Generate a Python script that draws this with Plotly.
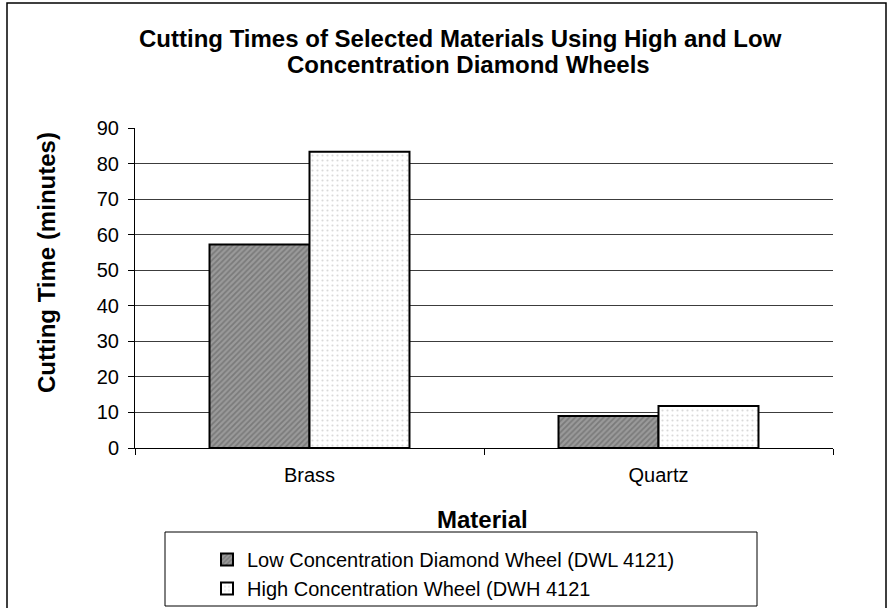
import plotly.graph_objects as go

materials = ["Brass", "Quartz"]
low_conc = [57.2, 9.0]
high_conc = [83.3, 11.8]
series_names = ["Low Concentration Diamond Wheel (DWL 4121)",
                "High Concentration Wheel (DWH 4121"]
y_ticks = [0, 10, 20, 30, 40, 50, 60, 70, 80, 90]

W, H = 889, 608
L, R, T, B = 135, 56, 128, 160
PW, PH = W - L - R, H - T - B

def px(x):
    return (x - L) / PW

def py(y):
    return (H - B - y) / PH

FONT = "Liberation Sans, Arial, sans-serif"

fig = go.Figure()
fig.add_trace(go.Bar(
    x=materials, y=low_conc, name=series_names[0],
    marker=dict(color="#8c8c8c", line=dict(color="black", width=2),
                pattern=dict(shape="/", fgcolor="#5a5a5a", bgcolor="#9a9a9a",
                             size=4, solidity=0.45)),
))
fig.add_trace(go.Bar(
    x=materials, y=high_conc, name=series_names[1],
    marker=dict(color="white", line=dict(color="black", width=2),
                pattern=dict(shape=".", fgcolor="#b4b4b4", bgcolor="white",
                             size=5, solidity=0.15)),
))

fig.update_layout(
    width=W, height=H,
    margin=dict(l=L, r=R, t=T, b=B, autoexpand=False),
    paper_bgcolor="white", plot_bgcolor="white",
    barmode="group", bargap=0.427, bargroupgap=0,
    font=dict(family=FONT, size=20, color="black"),
    showlegend=True,
    legend=dict(x=px(207), y=py(540), xanchor="left", yanchor="top",
                bgcolor="rgba(0,0,0,0)", borderwidth=0,
                font=dict(family=FONT, size=20, color="black"),
                tracegroupgap=0, itemwidth=30),
    xaxis=dict(type="category", showline=True, linecolor="black", linewidth=1,
               ticks="outside", tickson="boundaries", ticklen=6, tickcolor="black",
               ticklabelstandoff=9,
               showgrid=False, tickfont=dict(size=20), fixedrange=True),
    yaxis=dict(range=[0, 90], tickvals=y_ticks, showline=True, linecolor="black",
               linewidth=1, ticks="outside", ticklen=6, tickcolor="black",
               ticklabelstandoff=5,
               showgrid=True, gridcolor="#3c3c3c", gridwidth=1, zeroline=False,
               tickfont=dict(size=20), fixedrange=True),
    shapes=[
        dict(type="rect", xref="paper", yref="paper",
             x0=px(7), x1=px(886), y0=py(640), y1=py(3),
             line=dict(color="black", width=1.5), fillcolor="rgba(0,0,0,0)",
             layer="below"),
        dict(type="rect", xref="paper", yref="paper",
             x0=px(165), x1=px(757), y0=py(606), y1=py(532),
             line=dict(color="black", width=1), fillcolor="rgba(0,0,0,0)"),
    ],
    annotations=[
        dict(text="<b>Cutting Times of Selected Materials Using High and Low</b>",
             x=px(460), y=py(38), xref="paper", yref="paper", showarrow=False,
             xanchor="center", yanchor="middle", font=dict(size=24)),
        dict(text="<b>Concentration Diamond Wheels</b>",
             x=px(468), y=py(64), xref="paper", yref="paper", showarrow=False,
             xanchor="center", yanchor="middle", font=dict(size=24)),
        dict(text="<b>Cutting Time (minutes)</b>",
             x=px(46), y=py(263), xref="paper", yref="paper", showarrow=False,
             xanchor="center", yanchor="middle", textangle=-90, font=dict(size=24)),
        dict(text="<b>Material</b>",
             x=px(482), y=py(519), xref="paper", yref="paper", showarrow=False,
             xanchor="center", yanchor="middle", font=dict(size=24)),
    ],
)

fig.write_html("out.html", config={"displayModeBar": False},
               post_script="document.body.style.margin='0';")
